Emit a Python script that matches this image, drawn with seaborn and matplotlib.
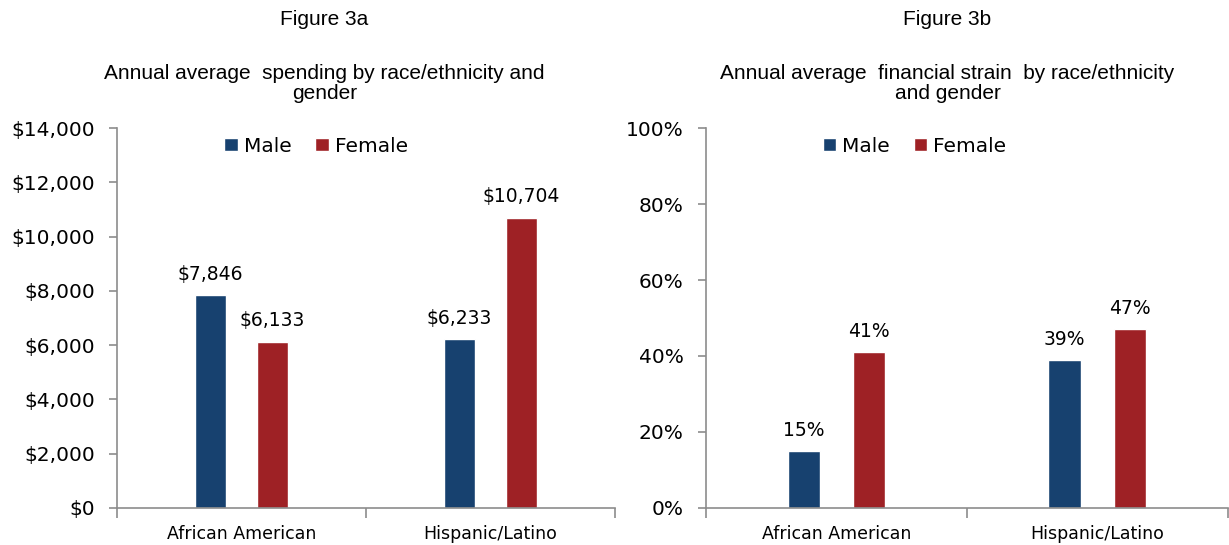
import pandas as pd
import matplotlib.pyplot as plt
import seaborn as sns
from matplotlib.patches import Patch
from matplotlib.ticker import FuncFormatter

groups = ["African American", "Hispanic/Latino"]
genders = ["Male", "Female"]
spending_male = [7846, 6233]
spending_female = [6133, 10704]
strain_male = [15, 39]
strain_female = [41, 47]

colors = {"Male": "#17416f", "Female": "#9e2125"}
title_font = ["Liberation Sans Narrow", "Liberation Sans", "DejaVu Sans"]
axis_grey = "#8c8c8c"


def make_frame(male, female):
    return pd.DataFrame({
        "group": groups * 2,
        "gender": ["Male"] * len(groups) + ["Female"] * len(groups),
        "value": male + female,
    })


def draw_panel(ax, df, ymax, ystep, fmt, label_fmt):
    sns.barplot(
        data=df, x="group", y="value", hue="gender",
        hue_order=genders, palette=colors,
        width=0.5, gap=0.5, legend=False, ax=ax,
        saturation=1, errorbar=None
    )

    ax.set_xlim(-0.5, 1.5)
    ax.set_ylim(0, ymax)
    ax.set_yticks(range(0, ymax + 1, ystep))
    ax.yaxis.set_major_formatter(FuncFormatter(fmt))
    ax.set_xlabel("")
    ax.set_ylabel("")

    for s in ["top", "right"]:
        ax.spines[s].set_visible(False)
    for s in ["left", "bottom"]:
        ax.spines[s].set_color(axis_grey)
        ax.spines[s].set_linewidth(1.2)

    ax.tick_params(axis="y", left=True, length=6, width=1.2, color=axis_grey,
                   labelsize=14.5, pad=10, labelcolor="black")
    ax.tick_params(axis="x", which="major", bottom=True, length=0,
                   labelsize=12.5, pad=12, labelcolor="black")
    ax.set_xticks([-0.5, 0.5, 1.5], minor=True)
    ax.tick_params(axis="x", which="minor", bottom=True, length=7, width=1.2,
                   color=axis_grey)

    for cont in ax.containers:
        ax.bar_label(cont, labels=[label_fmt(v) for v in cont.datavalues],
                     padding=8, fontsize=13.5, color="black")

    handles = [Patch(facecolor=colors[g], label=g) for g in genders]
    leg = ax.legend(handles=handles, ncol=2, frameon=False, loc="upper center",
                    bbox_to_anchor=(0.4, 1.025), fontsize=14.5,
                    handlelength=0.65, handleheight=0.65, handletextpad=0.3,
                    columnspacing=1.2)
    for t in leg.get_texts():
        t.set_color("black")


sns.set_style("white")

fig = plt.figure(figsize=(12.29, 5.45), dpi=100)
ax1 = fig.add_axes([0.0952, 0.068, 0.405, 0.697])
ax2 = fig.add_axes([0.5745, 0.068, 0.4245, 0.697])

draw_panel(ax1, make_frame(spending_male, spending_female), 14000, 2000,
           lambda v, p: f"${v:,.0f}", lambda v: f"${v:,.0f}")
draw_panel(ax2, make_frame(strain_male, strain_female), 100, 20,
           lambda v, p: f"{v:.0f}%", lambda v: f"{v:.0f}%")

fig.text(0.264, 0.965, "Figure 3a", ha="center", va="center",
         fontsize=15, family=title_font, color="black")
fig.text(0.264, 0.847, "Annual average  spending by race/ethnicity and\ngender",
         ha="center", va="center", fontsize=15, family=title_font,
         linespacing=1.05, color="black")
fig.text(0.771, 0.965, "Figure 3b", ha="center", va="center",
         fontsize=15, family=title_font, color="black")
fig.text(0.771, 0.847, "Annual average  financial strain  by race/ethnicity\nand gender",
         ha="center", va="center", fontsize=15, family=title_font,
         linespacing=1.05, color="black")

fig.savefig("out.png", dpi=100)
